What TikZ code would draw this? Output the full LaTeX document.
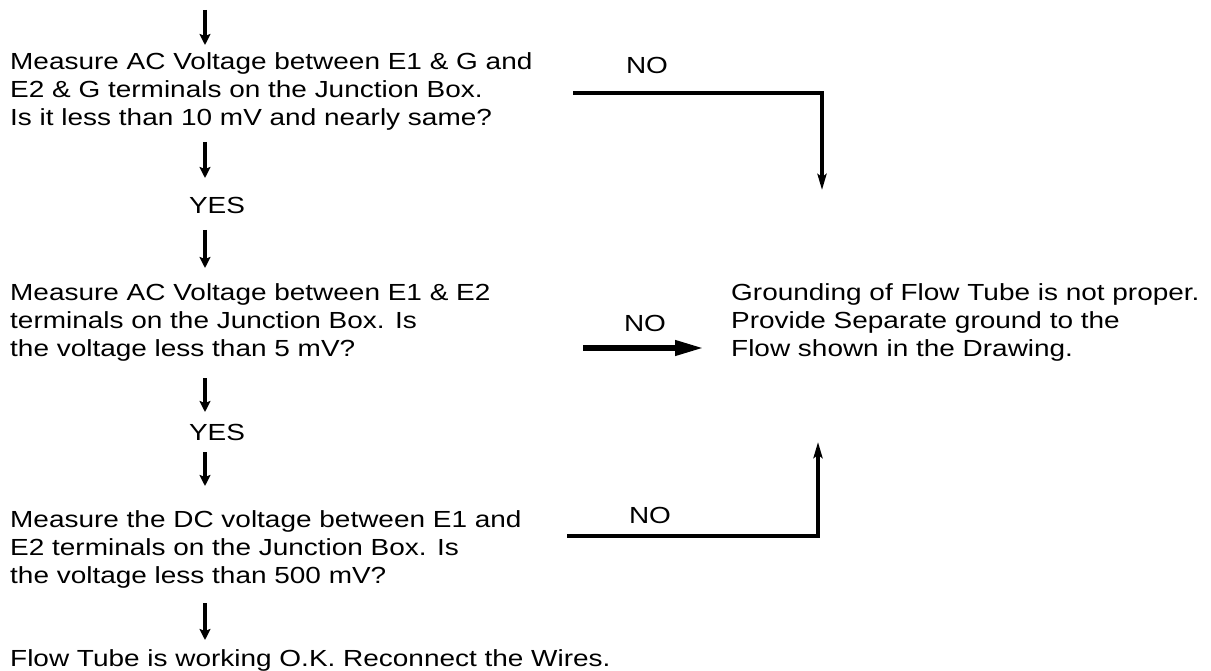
\documentclass[tikz,border=0pt]{standalone}
\usepackage{fontspec}
\setmainfont[FakeStretch=1.2]{Liberation Sans}
\usetikzlibrary{arrows.meta}
\begin{document}
\begin{tikzpicture}[x=1pt,y=-1pt,
  txt/.style={font=\fontsize{23.3}{28.2}\selectfont, inner sep=0pt, align=left, anchor=north west},
  lbl/.style={font=\fontsize{23.3}{28}\selectfont, inner sep=0pt},
  flowarrow/.style={line width=4pt, -{Stealth[width=11pt,length=11pt,inset=2pt]}},
  conn/.style={line width=3.5pt, -{Stealth[width=9pt,length=16pt,inset=3pt]}},
  thickarrow/.style={line width=6.5pt, -{Triangle[width=14pt,length=30pt]}}]
\useasboundingbox (0,0) rectangle (1211,671);

% text blocks
\node[txt] (b1) at (10,52) {Measure AC Voltage between E1 \& G and\\E2 \& G terminals on the Junction Box.\\Is it less than 10 mV and nearly same?};
\node[txt] (b2) at (10,283) {Measure AC Voltage between E1 \& E2\\terminals on the Junction Box. Is\\the voltage less than 5 mV?};
\node[txt] (b3) at (10,510) {Measure the DC voltage between E1 and\\E2 terminals on the Junction Box. Is\\the voltage less than 500 mV?};
\node[txt] (res) at (731,283) {Grounding of Flow Tube is not proper.\\Provide Separate ground to the\\Flow shown in the Drawing.};
\node[txt] (ok) at (10,649) {Flow Tube is working O.K. Reconnect the Wires.};

% labels
\node[lbl] (no1) at (647,65) {NO};
\node[lbl] (no2) at (645,323) {NO};
\node[lbl] (no3) at (650,515) {NO};
\node[lbl] (yes1) at (217,205) {YES};
\node[lbl] (yes2) at (217,432) {YES};

% coordinates of connector ends
\coordinate (a0s) at (205,10);  \coordinate (a0e) at (205,45);
\coordinate (a1s) at (205,142); \coordinate (a1e) at (205,178);
\coordinate (a2s) at (205,230); \coordinate (a2e) at (205,268);
\coordinate (a3s) at (205,378); \coordinate (a3e) at (205,412);
\coordinate (a4s) at (205,452); \coordinate (a4e) at (205,486);
\coordinate (a5s) at (205,603); \coordinate (a5e) at (205,640);
\coordinate (c1s) at (573,93);  \coordinate (c1e) at (822,190);
\coordinate (c2s) at (583,348); \coordinate (c2e) at (705,348);
\coordinate (c3s) at (567,536); \coordinate (c3e) at (818,442);

% main flow arrows
\draw[flowarrow] (a0s) -- (a0e);
\draw[flowarrow] (a1s) -- (a1e);
\draw[flowarrow] (a2s) -- (a2e);
\draw[flowarrow] (a3s) -- (a3e);
\draw[flowarrow] (a4s) -- (a4e);
\draw[flowarrow] (a5s) -- (a5e);

% NO branches
\draw[conn] (c1s) -| (c1e);
\draw[thickarrow] (c2s) -- (c2e);
\draw[conn] (c3s) -| (c3e);
\end{tikzpicture}
\end{document}
